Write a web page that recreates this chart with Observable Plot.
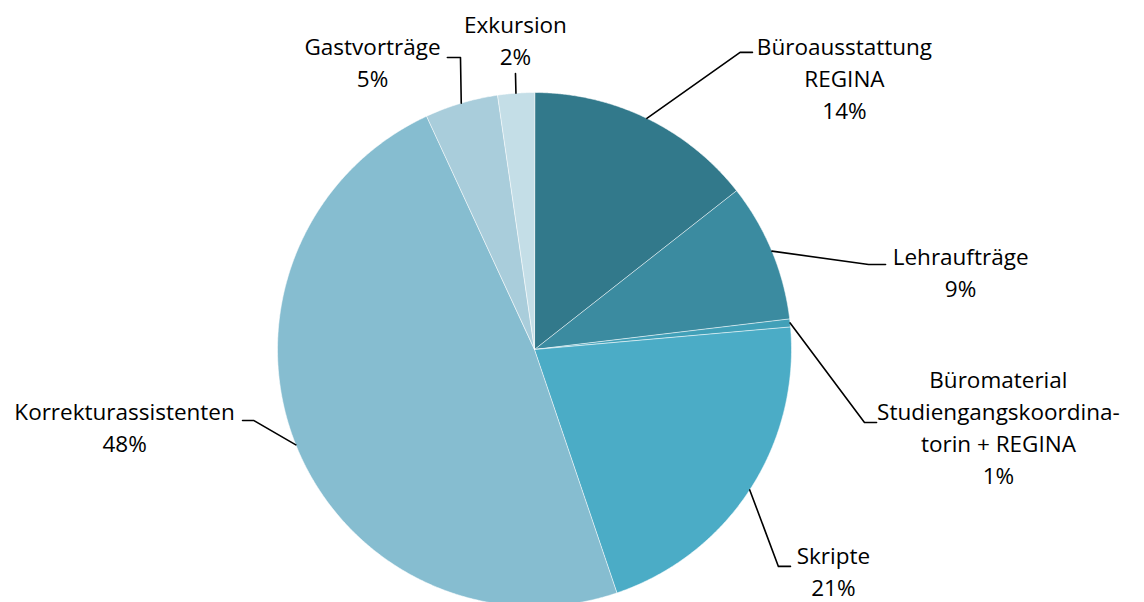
<!DOCTYPE html>
<html><head><meta charset="utf-8">
<script src="https://cdn.jsdelivr.net/npm/d3@7"></script>
<script src="https://cdn.jsdelivr.net/npm/@observablehq/plot@0.6"></script>
<style>body{margin:0;background:#fff}</style>
</head><body><div id="chart"></div>
<script>
// ---- data ----
const categories = ["Büroausstattung REGINA", "Lehraufträge", "Büromaterial Studiengangskoordinatorin + REGINA", "Skripte", "Korrekturassistenten", "Gastvorträge", "Exkursion"];
const shares = [14.4, 8.7, 0.5, 21.2, 48.3, 4.6, 2.3];
const labelLines = [["Büroausstattung", "REGINA"], ["Lehraufträge"], ["Büromaterial", "Studiengangskoordina-", "torin + REGINA"], ["Skripte"], ["Korrekturassistenten"], ["Gastvorträge"], ["Exkursion"]];
const colors = ["#32798B", "#3B8BA0", "#41A0B8", "#4BACC6", "#86BDD0", "#A9CDDB", "#C4DEE7"];

// ---- label layout (pie-radius units, y up, relative to centre) ----
const layout = [
  {elbow: [0.80, 1.156], end: [0.848, 1.156], text: [1.206, 1.05]},
  {elbow: [1.30, 0.331], end: [1.366, 0.331], text: [1.658, 0.294]},
  {elbow: [1.284, -0.284], end: [1.331, -0.284], text: [1.805, -0.307]},
  {elbow: [0.949, -0.844], end: [0.996, -0.844], text: [1.163, -0.868]},
  {elbow: [-1.093, -0.276], end: [-1.136, -0.276], text: [-1.595, -0.307]},
  {elbow: [-0.288, 1.136], end: [-0.339, 1.136], text: [-0.630, 1.111]},
  {elbow: [-0.074, 1.074], end: [-0.074, 1.074], text: [-0.074, 1.197]}
];

const arcs = d3.pie().sort(null).value(d => d)(shares);

const slicePts = [];
arcs.forEach((a, i) => {
  const cat = categories[i];
  slicePts.push({cat, x: 0, y: 0});
  const n = Math.max(2, Math.ceil((a.endAngle - a.startAngle) / 0.005));
  for (let k = 0; k <= n; k++) {
    const t = a.startAngle + (a.endAngle - a.startAngle) * k / n;
    slicePts.push({cat, x: Math.sin(t), y: Math.cos(t)});
  }
});

const leaderPts = [];
const labels = [];
arcs.forEach((a, i) => {
  const cat = categories[i];
  const m = (a.startAngle + a.endAngle) / 2;
  const L = layout[i];
  leaderPts.push({cat, x: Math.sin(m), y: Math.cos(m)});
  leaderPts.push({cat, x: L.elbow[0], y: L.elbow[1]});
  leaderPts.push({cat, x: L.end[0], y: L.end[1]});
  labels.push({cat, x: L.text[0], y: L.text[1], text: [...labelLines[i], Math.round(shares[i]) + "%"].join("\n")});
});

const W = 1144, H = 602, R = 257, CX = 534, CY = 349;
const chart = Plot.plot({
  width: W, height: H,
  margin: 0,
  x: {domain: [-CX / R, (W - CX) / R], axis: null},
  y: {domain: [-(H - CY) / R, CY / R], axis: null},
  color: {domain: categories, range: colors},
  style: {fontFamily: "'Open Sans', Lato, sans-serif", background: "white"},
  marks: [
    Plot.line(slicePts, {x: "x", y: "y", z: "cat", fill: "cat", stroke: "white", strokeOpacity: 0.55, strokeWidth: 1, curve: "linear-closed"}),
    Plot.line(leaderPts, {x: "x", y: "y", z: "cat", stroke: "black", strokeWidth: 1.6}),
    Plot.text(labels, {x: "x", y: "y", text: "text", fontSize: 22.5, lineHeight: 32 / 22.5, dy: -3, textAnchor: "middle", lineAnchor: "middle", fill: "black"})
  ]
});
document.getElementById("chart").appendChild(chart);
</script>
</body></html>
